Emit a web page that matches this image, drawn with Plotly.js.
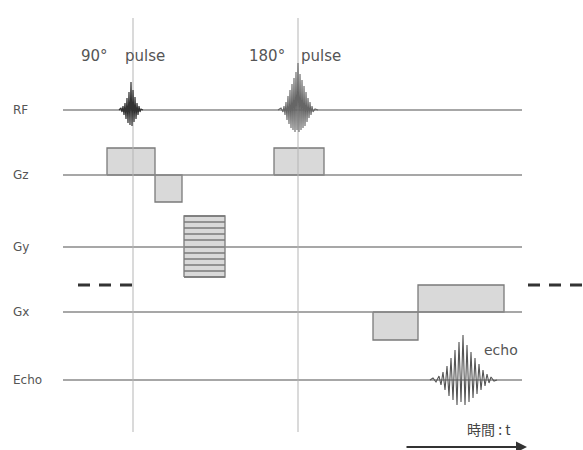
<!DOCTYPE html>
<html><head><meta charset="utf-8">
<script src="https://cdn.plot.ly/plotly-3.0.1.min.js"></script>
<style>html,body{margin:0;padding:0;background:#fff}</style>
</head><body><div id="c" style="width:583px;height:450px"></div>
<script>
// channels and their baselines (time axis in arbitrary units, amplitude axis downwards)
const channels = ['RF', 'Gz', 'Gy', 'Gx', 'Echo'];
const baselines = [110, 175, 247, 312, 380];
const timeStart = 63, timeEnd = 522;
const pulseTimes = [133, 298];
const pulseAngles = ['90°', '180°'];
const pulseWord = 'pulse';

// gradient lobes: [channel, tStart, tEnd, amplitude (up positive)]
const lobeChannel = ['Gz', 'Gz', 'Gz', 'Gx', 'Gx'];
const lobeStart = [107, 155, 274, 373, 418];
const lobeEnd = [155, 182, 324, 418, 504];
const lobeAmp = [27, -27, 27, -28, 27];

// phase-encoding table on Gy
const gyStart = 184, gyEnd = 225;
const gySteps = [31, 25, 19, 13, 7, 0, -6, -12, -18, -24, -30];

// RF pulse 90 (time, amplitude)
const rf90T = [119,121,122,123,124,125,126,127,128,129,130,131,132,133,134,135,136,137,138,139,140,141,143];
const rf90A = [0,2,-2,4,-5,7,-9,12,-13,18,-15,28,-16,20,-12,13,-9,7,-5,4,-2,1,0];
// RF pulse 180
const rf180T = [278,281,283,284,285,286,287,288,289,290,291,292,293,294,295,296,297,298,299,300,301,302,303,304,305,306,307,308,309,310,311,312,313,315,318];
const rf180A = [0,2,-2,4,-5,8,-10,14,-14,20,-18,26,-20,32,-22,38,-20,47,-22,36,-20,30,-18,24,-16,18,-12,12,-8,8,-5,4,-2,1,0];
// echo signal
const echoT = [430,433,436,439,441,443,445,447,449,451,453,455,457,459,461,463,465,467,469,471,473,475,477,479,481,483,485,487,489,491,494,497];
const echoA = [0,2,-2,4,-5,8,-10,14,-16,22,-20,30,-25,38,-22,45,-25,35,-22,28,-18,22,-14,16,-10,10,-6,6,-3,3,-1,0];

// dashed k-space markers on the Gx readout level
const dashLevel = 285;
const dashLeft = [78, 134], dashRight = [528, 583];

const base = {}; channels.forEach((c,i)=>base[c]=baselines[i]);
const traces = [];
const lineGray = '#8a8a8a', rectEdge = '#7a7a7a', rectFill = '#d9d9d9';

// lobes
for (let i = 0; i < lobeStart.length; i++) {
  const b = base[lobeChannel[i]], a = lobeAmp[i];
  traces.push({x:[lobeStart[i], lobeStart[i], lobeEnd[i], lobeEnd[i], lobeStart[i]],
    y:[b, b - a, b - a, b, b], mode:'lines', fill:'toself', fillcolor:rectFill,
    line:{color:rectEdge, width:1.3}, hoverinfo:'skip'});
}
// Gy table
const gyTop = base.Gy - gySteps[0], gyBot = base.Gy - gySteps[gySteps.length-1];
traces.push({x:[gyStart,gyStart,gyEnd,gyEnd,gyStart], y:[gyBot,gyTop,gyTop,gyBot,gyBot],
  mode:'lines', fill:'toself', fillcolor:rectFill, line:{color:rectEdge, width:1.3}, hoverinfo:'skip'});
gySteps.forEach(s => traces.push({x:[gyStart, gyEnd], y:[base.Gy - s, base.Gy - s], mode:'lines',
  line:{color:rectEdge, width:1.3}, hoverinfo:'skip'}));

// baselines
channels.forEach(c => traces.push({x:[timeStart, timeEnd], y:[base[c], base[c]], mode:'lines',
  line:{color:lineGray, width:1.3}, hoverinfo:'skip'}));
// vertical pulse lines
pulseTimes.forEach(t => traces.push({x:[t, t], y:[18, 432], mode:'lines',
  line:{color:'#b5b5b5', width:1}, hoverinfo:'skip'}));
// dashes
[dashLeft, dashRight].forEach(d => traces.push({x:d, y:[dashLevel, dashLevel], mode:'lines',
  line:{color:'#333', width:2.8, dash:'12px,9px'}, hoverinfo:'skip'}));

// waveforms
traces.push({x:rf90T, y:rf90A.map(a => base.RF - a), mode:'lines', line:{color:'#333', width:1.2}, hoverinfo:'skip'});
traces.push({x:rf180T, y:rf180A.map(a => base.RF - a), mode:'lines', line:{color:'#666', width:1.1}, hoverinfo:'skip'});
traces.push({x:echoT, y:echoA.map(a => base.Echo - a), mode:'lines', line:{color:'#555', width:1.1}, hoverinfo:'skip'});

const font = {family:'DejaVu Sans, sans-serif', color:'#555'};
const ann = [];
channels.forEach(c => ann.push({x:11, y:base[c], text:c, showarrow:false, xanchor:'left', yanchor:'middle',
  font:Object.assign({}, font, {size:12})}));
ann.push({x:94, y:56, text:pulseAngles[0], showarrow:false, font:Object.assign({}, font, {size:15})});
ann.push({x:123, y:56, text:pulseWord, showarrow:false, xanchor:'left', font:Object.assign({}, font, {size:15})});
ann.push({x:267, y:56, text:pulseAngles[1], showarrow:false, font:Object.assign({}, font, {size:15})});
ann.push({x:299, y:56, text:pulseWord, showarrow:false, xanchor:'left', font:Object.assign({}, font, {size:15})});
ann.push({x:501, y:350, text:'echo', showarrow:false, font:Object.assign({}, font, {size:14})});
ann.push({x:489, y:429, text:'時間 : t', showarrow:false, font:{family:'Noto Sans CJK JP', size:14, color:'#444'}});
ann.push({x:527, y:447, ax:405, ay:447, axref:'x', ayref:'y', xref:'x', yref:'y', text:'', showarrow:true,
  arrowhead:2, arrowsize:1, arrowwidth:2.2, arrowcolor:'#333'});

Plotly.newPlot('c', traces, {
  width:583, height:450, margin:{l:0, r:0, t:0, b:0}, showlegend:false,
  paper_bgcolor:'#fff', plot_bgcolor:'#fff',
  xaxis:{range:[0, 583], visible:false, fixedrange:true},
  yaxis:{range:[450, 0], visible:false, fixedrange:true},
  annotations:ann
}, {staticPlot:true});
</script></body></html>
